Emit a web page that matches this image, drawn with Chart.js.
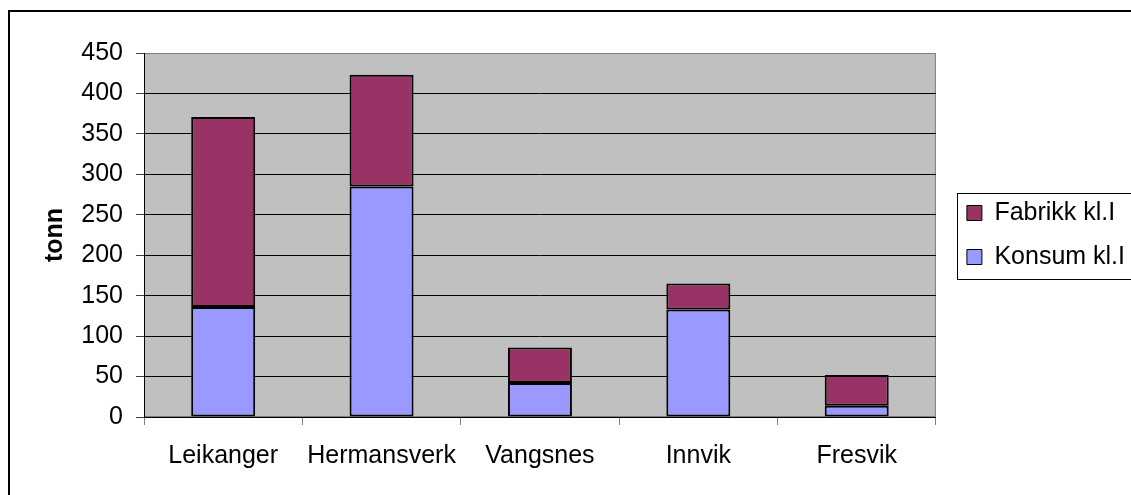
<!DOCTYPE html>
<html>
<head>
<meta charset="utf-8">
<script src="https://cdn.jsdelivr.net/npm/chart.js@4.4.1/dist/chart.umd.min.js"></script>
<style>
  html, body { margin: 0; padding: 0; background: #fff; overflow: hidden; }
  #frame { position: absolute; left: 8px; top: 10px; width: 1200px; height: 600px; border-left: 2px solid #000; border-top: 2px solid #000; }
  #chart { position: absolute; left: 0; top: 0; }
</style>
</head>
<body>
<div id="frame"></div>
<canvas id="chart" width="1140" height="495"></canvas>
<script>
let categories = ["Leikanger", "Hermansverk", "Vangsnes", "Innvik", "Fresvik"];
let konsum = [136, 285, 42, 133, 14];
let fabrikk = [235, 138, 44, 32, 38];
let yTicks = [0, 50, 100, 150, 200, 250, 300, 350, 400, 450];

Chart.defaults.font.family = "'Liberation Sans', Arial, sans-serif";
Chart.defaults.color = "#000";

// grey plot area behind the bars
let plotBg = {
  id: "plotBg",
  beforeDraw(chart) {
    let a = chart.chartArea;
    let c = chart.ctx;
    c.save();
    c.fillStyle = "#C0C0C0";
    c.fillRect(a.left, a.top, a.right - a.left, a.bottom - a.top);
    c.strokeStyle = "#808080";
    c.lineWidth = 1;
    c.strokeRect(a.left + 0.5, a.top + 0.5, a.right - a.left - 1, a.bottom - a.top - 1);
    c.restore();
  }
};

// frame round the legend
let legendFrame = {
  id: "legendFrame",
  afterDraw(chart) {
    let boxes = chart.legend.legendHitBoxes;
    if (!boxes || !boxes.length) return;
    let left = Math.min(...boxes.map(b => b.left)) - 10;
    let right = Math.max(...boxes.map(b => b.left + b.width)) + 10;
    let top = boxes[0].top - 8;
    let last = boxes[boxes.length - 1];
    let bottom = last.top + last.height + 9;
    let c = chart.ctx;
    c.save();
    c.strokeStyle = "#000";
    c.lineWidth = 1;
    c.strokeRect(Math.round(left) + 0.5, Math.round(top) + 0.5, right - left, bottom - top);
    c.restore();
  }
};

new Chart(document.getElementById("chart"), {
  type: "bar",
  data: {
    labels: categories,
    datasets: [
      {
        label: "Konsum kl.I",
        data: konsum,
        backgroundColor: "#9999FF",
        borderColor: "#000",
        borderWidth: 2,
        borderSkipped: false,
        categoryPercentage: 0.404,
        barPercentage: 1
      },
      {
        label: "Fabrikk kl.I",
        data: fabrikk,
        backgroundColor: "#993366",
        borderColor: "#000",
        borderWidth: 2,
        borderSkipped: false,
        categoryPercentage: 0.404,
        barPercentage: 1
      }
    ]
  },
  options: {
    responsive: false,
    animation: false,
    devicePixelRatio: 1,
    layout: {
      padding: { top: 53, left: 0, right: 5, bottom: 0 }
    },
    plugins: {
      tooltip: { enabled: false },
      legend: {
        position: "right",
        fullSize: false,
        reverse: true,
        labels: {
          boxWidth: 15,
          boxHeight: 15,
          padding: 19,
          color: "#000",
          font: { size: 25 },
          generateLabels(chart) {
            let items = Chart.defaults.plugins.legend.labels.generateLabels(chart);
            items.forEach(i => { i.lineWidth = 1; });
            return items;
          }
        }
      }
    },
    scales: {
      x: {
        stacked: true,
        grid: {
          offset: true,
          drawOnChartArea: false,
          drawTicks: true,
          tickLength: 8,
          color: "#808080"
        },
        border: { color: "#000", width: 1 },
        ticks: { color: "#000", font: { size: 25 }, padding: 16 },
        afterFit(s) { s.height = 78; }
      },
      y: {
        stacked: true,
        min: yTicks[0],
        max: yTicks[yTicks.length - 1],
        ticks: {
          stepSize: yTicks[1] - yTicks[0],
          color: "#000",
          font: { size: 25 },
          padding: 13
        },
        grid: {
          color: ctx => (ctx.tick && ctx.tick.value === yTicks[yTicks.length - 1]) ? "#808080" : "#000",
          tickColor: "#404040",
          tickLength: 8
        },
        border: { color: "#000", width: 1 },
        title: {
          display: true,
          text: "tonn",
          color: "#000",
          font: { size: 25, weight: "bold" },
          padding: { top: 40, bottom: 0 }
        },
        afterFit(s) { s.width = 144; }
      },
      // empty strip between plot and legend
      gap: {
        type: "linear",
        position: "right",
        display: true,
        grid: { display: false },
        ticks: { display: false },
        border: { display: false },
        afterFit(s) { s.width = 12; }
      }
    }
  },
  plugins: [plotBg, legendFrame]
});
</script>
</body>
</html>
